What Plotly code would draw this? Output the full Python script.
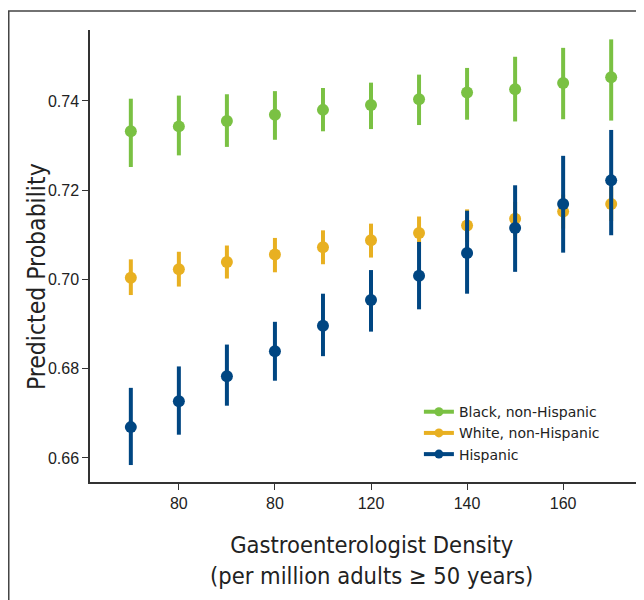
import plotly.graph_objects as go

density = [70, 80, 90, 100, 110, 120, 130, 140, 150, 160, 170]
tick_vals = [80, 100, 120, 140, 160]
tick_text = ["80", "80", "120", "140", "160"]

black_mid = [0.7332, 0.7343, 0.7355, 0.7369, 0.7380, 0.7391, 0.7404, 0.7419, 0.7426, 0.7440, 0.7453]
black_hi = [0.7405, 0.7412, 0.7415, 0.7422, 0.7429, 0.7441, 0.7459, 0.7474, 0.7499, 0.7519, 0.7538]
black_lo = [0.7252, 0.7278, 0.7297, 0.7313, 0.7332, 0.7337, 0.7346, 0.7358, 0.7354, 0.7359, 0.7356]

white_mid = [0.7004, 0.7023, 0.7039, 0.7056, 0.7072, 0.7088, 0.7104, 0.7121, 0.7136, 0.7152, 0.7169]
white_hi = [0.7045, 0.7062, 0.7076, 0.7093, 0.7110, 0.7125, 0.7141, 0.7157, 0.7174, 0.7190, 0.7207]
white_lo = [0.6965, 0.6984, 0.7002, 0.7016, 0.7034, 0.7049, 0.7066, 0.7084, 0.7098, 0.7114, 0.7131]

hisp_mid = [0.6669, 0.6727, 0.6783, 0.6839, 0.6896, 0.6954, 0.7008, 0.7059, 0.7115, 0.7169, 0.7222]
hisp_hi = [0.6757, 0.6805, 0.6854, 0.6905, 0.6968, 0.7021, 0.7084, 0.7154, 0.7211, 0.7277, 0.7335]
hisp_lo = [0.6584, 0.6652, 0.6717, 0.6773, 0.6828, 0.6883, 0.6933, 0.6968, 0.7017, 0.7060, 0.7099]

x_title = "Gastroenterologist Density<br>(per million adults ≥ 50 years)"
y_title = "Predicted Probability"

series = [
    ("Black, non-Hispanic", black_mid, black_hi, black_lo, "#7ac143"),
    ("White, non-Hispanic", white_mid, white_hi, white_lo, "#e8b021"),
    ("Hispanic", hisp_mid, hisp_hi, hisp_lo, "#004682"),
]

fig = go.Figure()
for name, mid, hi, lo, color in series:
    fig.add_trace(go.Scatter(
        x=density, y=mid, mode="markers", showlegend=False,
        marker=dict(size=12, color=color),
        error_y=dict(type="data", symmetric=False,
                     array=[h - m for h, m in zip(hi, mid)],
                     arrayminus=[m - l for m, l in zip(mid, lo)],
                     width=0, thickness=4, color=color),
    ))
for name, mid, hi, lo, color in series:
    fig.add_trace(go.Scatter(
        x=[None], y=[None], mode="lines+markers", name=name,
        line=dict(color=color, width=4), marker=dict(size=9, color=color),
    ))

axis_col = "#333333"
title_fam = "DejaVu Sans Condensed, Liberation Sans Narrow, Roboto, sans-serif"
# page body has an 8px margin, so the figure is sized 8px smaller
fig.update_layout(
    width=636, height=592,
    margin=dict(l=82, r=4, t=22, b=118, autoexpand=False),
    paper_bgcolor="white", plot_bgcolor="white",
    font=dict(family="Liberation Sans, Arial, sans-serif", color="#222222"),
    showlegend=True,
    legend=dict(x=0.598, y=0.19, xanchor="left", yanchor="top",
                bgcolor="rgba(0,0,0,0)",
                font=dict(size=14, family="DejaVu Sans, sans-serif", color="#222222"),
                itemwidth=30, tracegroupgap=0),
    xaxis=dict(range=[61.5, 176], tickvals=tick_vals, ticktext=tick_text,
               automargin=False,
               showgrid=False, zeroline=False, showline=True, linecolor=axis_col,
               linewidth=1.5, ticks="outside", ticklen=6, tickcolor=axis_col,
               tickfont=dict(size=16, color="#222222")),
    yaxis=dict(range=[0.6546, 0.7559], tickvals=[0.66, 0.68, 0.70, 0.72, 0.74],
               tickformat=".2f", automargin=False,
               showgrid=False, zeroline=False, showline=True, linecolor=axis_col,
               linewidth=1.5, ticks="outside", ticklen=6, tickcolor=axis_col,
               tickfont=dict(size=16, color="#222222")),
)

fig.add_annotation(text=x_title, xref="paper", yref="paper", x=0.5127, y=-0.1726,
                   xanchor="center", yanchor="middle", showarrow=False,
                   font=dict(size=23.5, family=title_fam, color="#222222"))
fig.add_annotation(text=y_title, xref="paper", yref="paper", x=-0.098, y=0.4535,
                   xanchor="center", yanchor="middle", showarrow=False, textangle=-90,
                   font=dict(size=24.5, family=title_fam, color="#222222"))

fig.add_shape(type="rect", xref="paper", yref="paper",
              x0=-0.1477, x1=1.2, y0=-0.4, y1=1.042,
              line=dict(color="#444444", width=1.5), fillcolor="rgba(0,0,0,0)", layer="below")

fig.write_html("out.html")
